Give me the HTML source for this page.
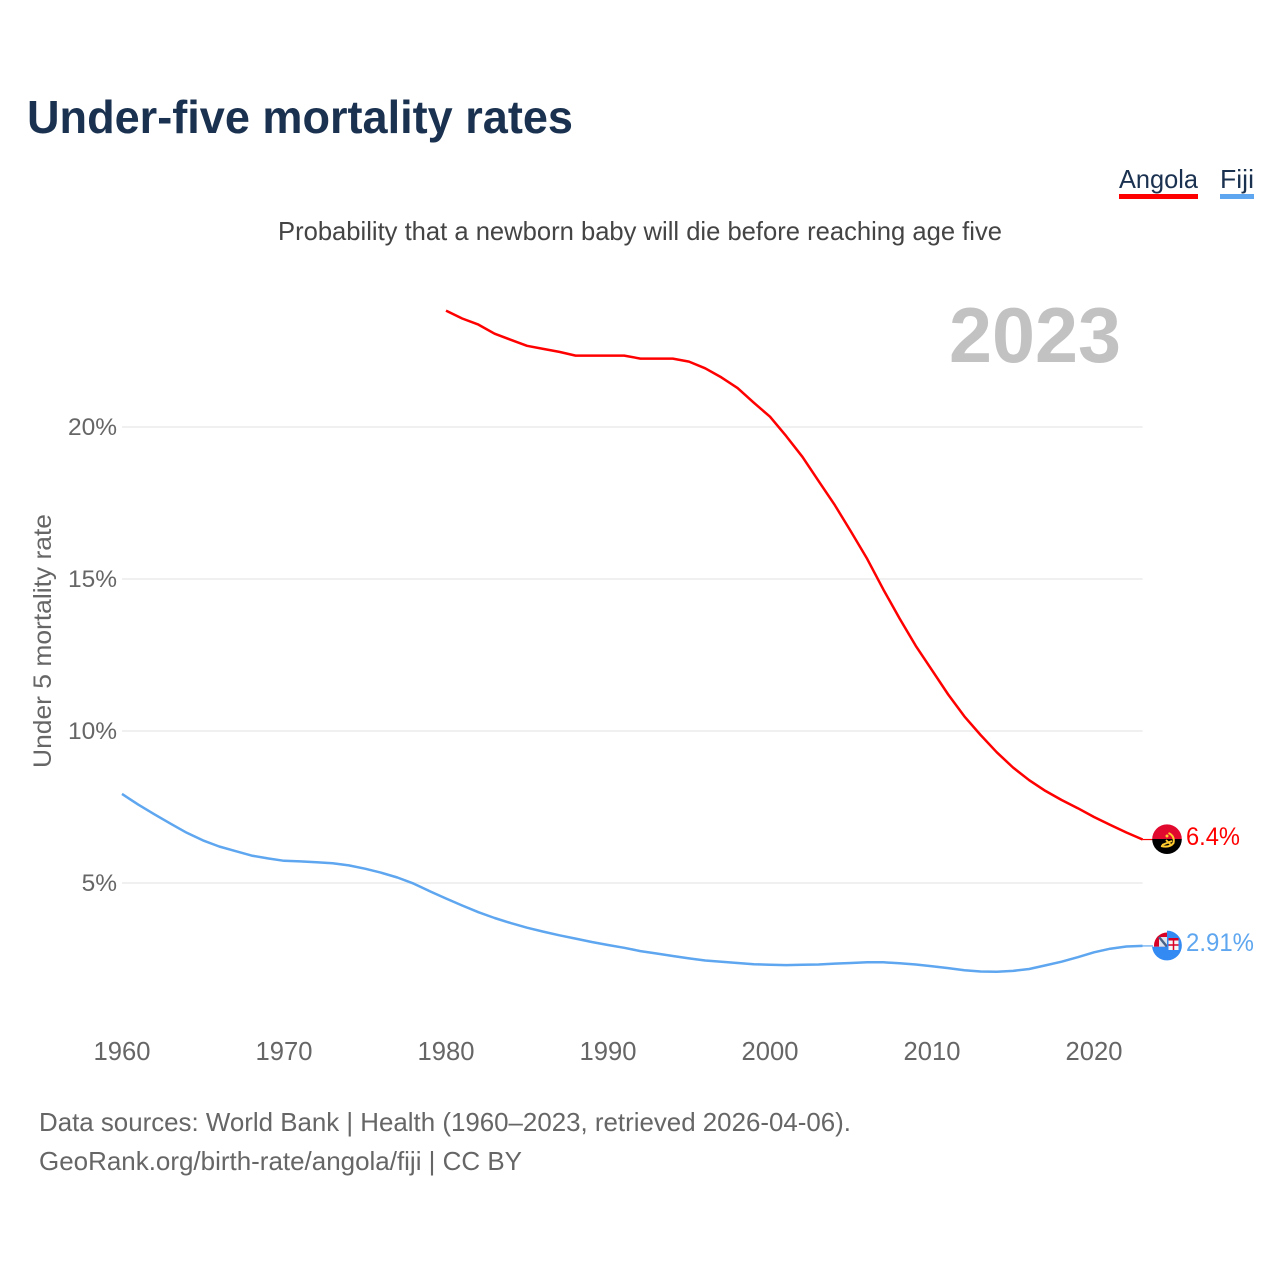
<!DOCTYPE html>
<html lang="en">
<head>
<meta charset="utf-8">
<title>Under-five mortality rates</title>
<style>
html,body{margin:0;padding:0;background:#fff;width:1280px;height:1280px;overflow:hidden}
svg{display:block}
text{font-family:"Liberation Sans",sans-serif}
</style>
</head>
<body>
<svg id="chart" width="1280" height="1280" viewBox="0 0 1280 1280" xmlns="http://www.w3.org/2000/svg">
  <defs>
    <clipPath id="flag-clip-angola"><circle cx="1167" cy="839.2" r="14.8"/></clipPath>
  </defs>
  <text x="27" y="133" font-size="46" font-weight="700" fill="#1a3150" textLength="546" lengthAdjust="spacingAndGlyphs">Under-five mortality rates</text>
  <g>
    <g>
      <text x="1119" y="188" font-size="26" fill="#1a3150" textLength="79" lengthAdjust="spacingAndGlyphs">Angola</text>
      <rect x="1119" y="194" width="79" height="5" fill="#ff0000"/>
    </g>
    <g>
      <text x="1220" y="188" font-size="26" fill="#1a3150" textLength="34" lengthAdjust="spacingAndGlyphs">Fiji</text>
      <rect x="1220" y="194" width="34" height="5" fill="#5ea6ef"/>
    </g>
  </g>
  <text x="278" y="240" font-size="26" fill="#444444" textLength="724" lengthAdjust="spacingAndGlyphs">Probability that a newborn baby will die before reaching age five</text>
  <text x="949" y="362" font-size="78" font-weight="700" fill="#c2c2c2" textLength="172" lengthAdjust="spacingAndGlyphs">2023</text>
  <text transform="translate(51,768) rotate(-90)" font-size="25" fill="#666666" textLength="254" lengthAdjust="spacingAndGlyphs">Under 5 mortality rate</text>
  <g id="grid"></g>
  <g id="yticks"></g>
  <g id="xticks"></g>
  <g id="series"></g>
  <g clip-path="url(#flag-clip-angola)">
    <rect x="1150" y="824" width="34" height="15" fill="#e2092f"/>
    <rect x="1150" y="839" width="34" height="16" fill="#000000"/>
    <path d="M1168.5 833 Q1175 836 1173.5 843 Q1170 848 1161 846" fill="none" stroke="#ffcb2e" stroke-width="2"/>
    <path d="M1162 845 L1172 841 M1166 840 L1171 845" stroke="#ffcb2e" stroke-width="1.8"/>
    <circle cx="1167" cy="836" r="1.5" fill="#ffcb2e"/>
  </g>
  <g>
    <path d="M1167 932.5 A13 13 0 0 0 1154 945.5 V946.7 H1167 Z" fill="#d80027"/>
    <rect x="1159" y="937" width="8" height="9.7" fill="#dfe5ee"/>
    <path d="M1159 937 L1167 946.7" stroke="#4a6288" stroke-width="2.4"/>
    <path d="M1167 930.6 A14.9 14.9 0 1 1 1152.1 946.7 H1167 Z" fill="#338af3"/>
    <rect x="1168.5" y="938" width="10" height="12" fill="#f5f5f5"/>
    <rect x="1168.5" y="938" width="10" height="2.5" fill="#d80027"/>
    <path d="M1173.5 940 V950 M1168.5 945 H1178.5" stroke="#d80027" stroke-width="1.5"/>
  </g>
  <text x="1186" y="845" font-size="25" fill="#ff0000" textLength="54" lengthAdjust="spacingAndGlyphs">6.4%</text>
  <text x="1186" y="951" font-size="25" fill="#5ea6ef" textLength="68" lengthAdjust="spacingAndGlyphs">2.91%</text>
  <text x="39" y="1131" font-size="26" fill="#666666" textLength="812" lengthAdjust="spacingAndGlyphs">Data sources: World Bank | Health (1960–2023, retrieved 2026-04-06).</text>
  <text x="39" y="1170" font-size="26" fill="#666666" textLength="483" lengthAdjust="spacingAndGlyphs">GeoRank.org/birth-rate/angola/fiji | CC BY</text>
</svg>
<script>
const yTicks = [5, 10, 15, 20];
const yTickLabels = ["5%", "10%", "15%", "20%"];
const xTicks = [1960, 1970, 1980, 1990, 2000, 2010, 2020];
const angolaStartYear = 1980;
const angolaValues = [23.83, 23.57, 23.37, 23.07, 22.87, 22.67, 22.57, 22.47, 22.35, 22.35, 22.35, 22.35, 22.25, 22.25, 22.25, 22.15, 21.93, 21.63, 21.28, 20.8, 20.34, 19.7, 19.02, 18.22, 17.43, 16.56, 15.66, 14.65, 13.7, 12.8, 12.0, 11.2, 10.48, 9.87, 9.3, 8.8, 8.38, 8.03, 7.73, 7.46, 7.17, 6.91, 6.66, 6.43];
const fijiStartYear = 1960;
const fijiValues = [7.93, 7.58, 7.26, 6.95, 6.65, 6.4, 6.2, 6.05, 5.9, 5.81, 5.73, 5.71, 5.68, 5.65, 5.58, 5.47, 5.34, 5.18, 4.98, 4.73, 4.49, 4.26, 4.04, 3.85, 3.68, 3.53, 3.4, 3.28, 3.17, 3.06, 2.96, 2.87, 2.76, 2.68, 2.6, 2.52, 2.45, 2.41, 2.37, 2.33, 2.31, 2.3, 2.31, 2.32, 2.35, 2.37, 2.39, 2.39, 2.36, 2.32, 2.26, 2.2, 2.13, 2.09, 2.08, 2.11, 2.17, 2.29, 2.41, 2.56, 2.72, 2.84, 2.91, 2.93];

const NS = "http://www.w3.org/2000/svg";
const xScale = function (year) { return 122 + (year - 1960) * 16.2; };
const yScale = function (value) { return 1035 - value * 30.4; };

const grid = document.getElementById("grid");
const yLabels = document.getElementById("yticks");
const xLabels = document.getElementById("xticks");
const seriesGroup = document.getElementById("series");

yTicks.forEach(function (tick, i) {
  const line = document.createElementNS(NS, "line");
  
  
  line.setAttribute("x1", 122);
  line.setAttribute("x2", xScale(2023));
  line.setAttribute("y1", yScale(tick));
  line.setAttribute("y2", yScale(tick));
  line.setAttribute("stroke", "#ececec");
  line.setAttribute("stroke-width", "1.5");
  grid.appendChild(line);

  const label = document.createElementNS(NS, "text");
  
  
  label.setAttribute("x", 117);
  label.setAttribute("y", yScale(tick) + 8);
  label.setAttribute("text-anchor", "end");
  label.setAttribute("font-size", "24.5");
  label.setAttribute("fill", "#666666");
  label.textContent = yTickLabels[i];
  yLabels.appendChild(label);
});

xTicks.forEach(function (tick) {
  const label = document.createElementNS(NS, "text");
  
  
  label.setAttribute("x", xScale(tick));
  label.setAttribute("y", 1060);
  label.setAttribute("text-anchor", "middle");
  label.setAttribute("font-size", "25.6");
  label.setAttribute("fill", "#666666");
  label.textContent = String(tick);
  xLabels.appendChild(label);
});

function drawSeries(values, startYear, color, name) {
  const pts = values.map(function (v, i) {
    return xScale(startYear + i).toFixed(1) + "," + yScale(v).toFixed(1);
  });
  const poly = document.createElementNS(NS, "polyline");
  
  
  poly.setAttribute("points", pts.join(" "));
  poly.setAttribute("fill", "none");
  poly.setAttribute("stroke", color);
  poly.setAttribute("stroke-width", "2.5");
  poly.setAttribute("stroke-linejoin", "round");
  seriesGroup.appendChild(poly);

  const lastIndex = values.length - 1;
  const connector = document.createElementNS(NS, "line");
  
  
  connector.setAttribute("x1", xScale(startYear + lastIndex));
  connector.setAttribute("x2", 1153);
  connector.setAttribute("y1", yScale(values[lastIndex]));
  connector.setAttribute("y2", yScale(values[lastIndex]));
  connector.setAttribute("stroke", color);
  connector.setAttribute("stroke-width", "1.2");
  seriesGroup.appendChild(connector);
}
drawSeries(angolaValues, angolaStartYear, "#ff0000", "angola-line");
drawSeries(fijiValues, fijiStartYear, "#5ea6ef", "fiji-line");
</script>
</body>
</html>
